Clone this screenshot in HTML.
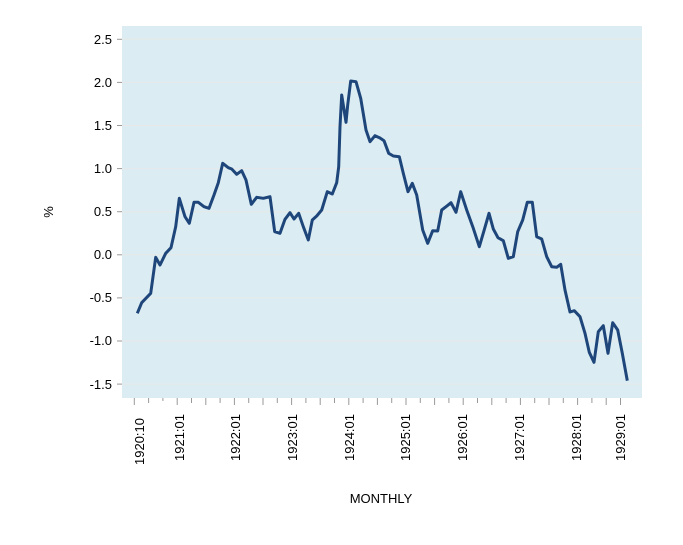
<!DOCTYPE html>
<html><head><meta charset="utf-8"><style>body{margin:0;background:#fff}</style></head><body>
<svg width="683" height="540" xmlns="http://www.w3.org/2000/svg" font-family="Liberation Sans, Arial, sans-serif">
<rect width="683" height="540" fill="#fff"/>
<rect x="122" y="26" width="520" height="372" fill="#dbedf3"/>
<g stroke="#e8e8e8" stroke-width="1">
<line x1="122" x2="642" y1="39.3" y2="39.3"/><line x1="122" x2="642" y1="82.4" y2="82.4"/><line x1="122" x2="642" y1="125.5" y2="125.5"/><line x1="122" x2="642" y1="168.6" y2="168.6"/><line x1="122" x2="642" y1="211.7" y2="211.7"/><line x1="122" x2="642" y1="254.8" y2="254.8"/><line x1="122" x2="642" y1="297.9" y2="297.9"/><line x1="122" x2="642" y1="341" y2="341"/><line x1="122" x2="642" y1="384.1" y2="384.1"/>
</g>
<g stroke="#999" stroke-width="1">
<line x1="117" x2="122" y1="39.3" y2="39.3"/><line x1="117" x2="122" y1="82.4" y2="82.4"/><line x1="117" x2="122" y1="125.5" y2="125.5"/><line x1="117" x2="122" y1="168.6" y2="168.6"/><line x1="117" x2="122" y1="211.7" y2="211.7"/><line x1="117" x2="122" y1="254.8" y2="254.8"/><line x1="117" x2="122" y1="297.9" y2="297.9"/><line x1="117" x2="122" y1="341" y2="341"/><line x1="117" x2="122" y1="384.1" y2="384.1"/>
</g>
<g font-size="13" text-anchor="end" fill="#000">
<text x="112" y="44">2.5</text><text x="112" y="87">2.0</text><text x="112" y="130">1.5</text><text x="112" y="173">1.0</text><text x="112" y="216">0.5</text><text x="112" y="259">0.0</text><text x="112" y="302">-0.5</text><text x="112" y="345">-1.0</text><text x="112" y="389">-1.5</text>
</g>
<polyline fill="none" stroke="#1f467a" stroke-width="3" stroke-linejoin="round" points="137.3,313.3 141.7,302.7 150.7,293.3 155.7,257.3 160,265 165.7,253.3 171,247.7 175.7,226.7 179.3,198.3 185,216.7 189.3,223.3 194,202.3 198.3,202.3 204,206.7 209,208.3 214,195 218.3,182.7 222.7,163.3 228.3,167.7 231.7,169 236.7,174.3 241.7,170.7 246,180 251.3,204.3 256.7,197.3 263.3,198.3 270,196.7 274.7,231.7 280,233.3 285,219.3 290,212.7 294,219 298.7,213.3 303.3,226.7 308.3,240 312.3,220 316.7,216 321.7,210 327.3,191.7 332.3,194 336.7,182.7 338.7,166.7 340,126.7 341.7,95 343.3,105 346,122.3 347.7,105 350.7,81 356,81.7 360.7,98.3 366,130 370,141.7 375,135.7 380,138 384,140.7 388.7,153.3 393.3,156 399.3,156.7 403.3,173.3 408,191.7 412.3,183.3 416.7,195 422.7,230 427.7,243.3 432.7,230.7 437.7,231 441.7,210 447.3,205.7 451,202.7 456,212.3 460.7,191.7 466.7,210 473.3,228.3 479.3,246.7 484,230.7 489,213.3 493.3,229 498,237.7 503.3,240.7 508.3,258.3 513.3,256.7 517.7,231.7 522.7,220 527.3,202.3 532.3,202.3 536.7,236.7 541.7,239 546.7,256.7 551.7,266.7 556.7,267.3 560.7,264.3 565,290 570,312 574.3,310.7 580,316.7 585,333.3 589.3,352.3 594,362.3 598.3,331.7 603.3,325.7 608,353.3 612.7,322.7 617.7,330 622.3,353.3 627.3,380.7"/>
<g font-size="13" fill="#000">
<text transform="translate(144,465) rotate(-90)">1920:10</text>
<text transform="translate(184,461) rotate(-90)">1921:01</text>
<text transform="translate(240,461) rotate(-90)">1922:01</text>
<text transform="translate(297,461) rotate(-90)">1923:01</text>
<text transform="translate(354,461) rotate(-90)">1924:01</text>
<text transform="translate(410,461) rotate(-90)">1925:01</text>
<text transform="translate(467,461) rotate(-90)">1926:01</text>
<text transform="translate(524,461) rotate(-90)">1927:01</text>
<text transform="translate(581,461) rotate(-90)">1928:01</text>
<text transform="translate(625,461) rotate(-90)">1929:01</text>
<text x="381" y="503" text-anchor="middle">MONTHLY</text>
<text transform="translate(53,212) rotate(-90)" text-anchor="middle">%</text>
</g>
<g stroke="#999" stroke-width="1">
<line x1="134.3" x2="134.3" y1="398" y2="405"/><line x1="148.6" x2="148.6" y1="398" y2="403"/><line x1="162.9" x2="162.9" y1="398" y2="401"/><line x1="177.2" x2="177.2" y1="398" y2="405"/><line x1="191.5" x2="191.5" y1="398" y2="403"/><line x1="205.8" x2="205.8" y1="398" y2="405"/><line x1="220.1" x2="220.1" y1="398" y2="403"/><line x1="234.4" x2="234.4" y1="398" y2="405"/><line x1="248.7" x2="248.7" y1="398" y2="403"/><line x1="263" x2="263" y1="398" y2="405"/><line x1="277.3" x2="277.3" y1="398" y2="403"/><line x1="291.6" x2="291.6" y1="398" y2="405"/><line x1="305.9" x2="305.9" y1="398" y2="403"/><line x1="320.2" x2="320.2" y1="398" y2="405"/><line x1="334.5" x2="334.5" y1="398" y2="403"/><line x1="348.8" x2="348.8" y1="398" y2="405"/><line x1="363.1" x2="363.1" y1="398" y2="403"/><line x1="377.4" x2="377.4" y1="398" y2="405"/><line x1="391.7" x2="391.7" y1="398" y2="403"/><line x1="406" x2="406" y1="398" y2="405"/><line x1="420.3" x2="420.3" y1="398" y2="403"/><line x1="434.6" x2="434.6" y1="398" y2="405"/><line x1="448.9" x2="448.9" y1="398" y2="403"/><line x1="463.2" x2="463.2" y1="398" y2="405"/><line x1="477.5" x2="477.5" y1="398" y2="403"/><line x1="491.8" x2="491.8" y1="398" y2="405"/><line x1="506.1" x2="506.1" y1="398" y2="403"/><line x1="520.4" x2="520.4" y1="398" y2="405"/><line x1="534.7" x2="534.7" y1="398" y2="403"/><line x1="549" x2="549" y1="398" y2="405"/><line x1="563.3" x2="563.3" y1="398" y2="403"/><line x1="577.6" x2="577.6" y1="398" y2="405"/><line x1="591.9" x2="591.9" y1="398" y2="403"/><line x1="606.2" x2="606.2" y1="398" y2="405"/><line x1="620.5" x2="620.5" y1="398" y2="405"/>
</g>
</svg>
</body></html>
